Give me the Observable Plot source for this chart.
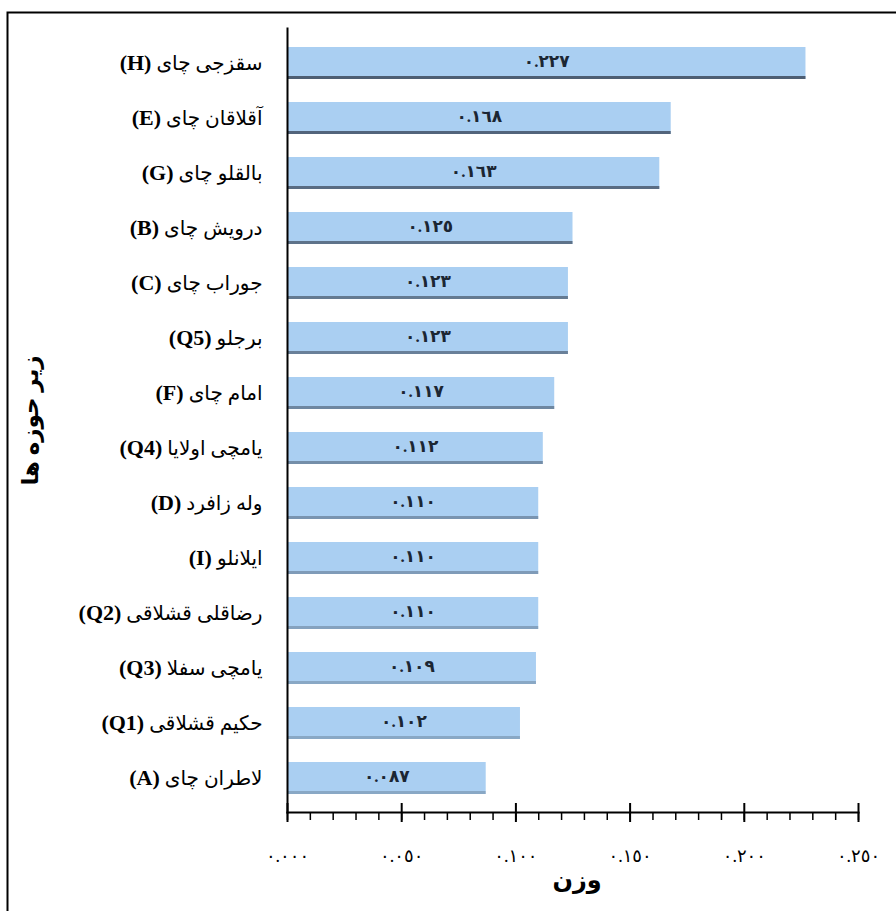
<!DOCTYPE html>
<html>
<head>
<meta charset="utf-8">
<script src="https://cdn.jsdelivr.net/npm/d3@7"></script>
<script src="https://cdn.jsdelivr.net/npm/@observablehq/plot@0.6"></script>
<style>
  html, body { margin: 0; padding: 0; background: #fff; }
</style>
</head>
<body>
<div id="chart"></div>
<script>
const codes = ["H","E","G","B","C","Q5","F","Q4","D","I","Q2","Q3","Q1","A"];
const names = ["سقزجی چای","آقلاقان چای","بالقلو چای","درویش چای","جوراب چای","برجلو","امام چای","یامچی اولایا","وله زافرد","ایلانلو","رضاقلی قشلاقی","یامچی سفلا","حکیم قشلاقی","لاطران چای"];
const weights = [0.227,0.168,0.163,0.125,0.123,0.123,0.117,0.112,0.110,0.110,0.110,0.109,0.102,0.087];
const xTicks = [0,0.05,0.1,0.15,0.2,0.25];
const minorTicks = d3.range(0, 26).map(i => i / 100);
const yTitle = "زیر حوزه ها";
const xTitle = "وزن";

const ar = s => String(s).replace(/\d/g, d => "٠١٢٣٤٥٦٧٨٩"[d]);
const data = codes.map((c, i) => ({code: c, name: names[i], value: weights[i], idx: i}));

const chart = Plot.plot({
  width: 896,
  height: 911,
  marginLeft: 287,
  marginRight: 38,
  marginTop: 28,
  marginBottom: 99,
  x: {domain: [0, 0.25]},
  y: {domain: codes, paddingInner: 0.42, paddingOuter: 0.27},
  style: {fontFamily: "'Liberation Serif', 'DejaVu Sans', serif", background: "white", color: "black"},
  marks: [
    Plot.barX(data, {x: "value", y: "code", fill: "#aacff2"}),
    Plot.barX(data, {x: "value", y: "code", fill: "#4d5e73", insetTop: 29, fillOpacity: d => Math.max(0.35, 1 - d.idx * 0.06)}),
    Plot.text(data, {x: d => d.value / 2, y: "code", text: d => ar(d.value.toFixed(3)), fontWeight: "bold", fontSize: 17, fill: "#1b2633", dy: -2}),
    Plot.axisX(minorTicks, {tickSize: 8, tickFormat: () => "", label: null, strokeWidth: 1.5}),
    Plot.axisX(xTicks, {tickSize: 10, tickPadding: 27, tickFormat: d => ar(d.toFixed(3)), fontSize: 18, label: null, strokeWidth: 2}),
    Plot.ruleX(xTicks, {x: d => d, insetTop: 775, strokeWidth: 2}),
    Plot.frame({anchor: "left", strokeWidth: 2}),
    Plot.frame({anchor: "bottom", strokeWidth: 2}),
    Plot.axisY({tickSize: 0, tickPadding: 25, fontSize: 20, label: null}),
    Plot.text([yTitle], {frameAnchor: "left", textAnchor: "middle", rotate: -90, dx: -257, fontWeight: "bold", fontSize: 23}),
    Plot.text([xTitle], {frameAnchor: "bottom", dy: 75, dx: 4, fontWeight: "bold", fontSize: 24})
  ]
});

const svg = d3.select(chart);
svg.selectAll('g[aria-label="y-axis tick label"] text').each(function () {
  const code = this.textContent;
  const i = codes.indexOf(code);
  const t = d3.select(this);
  t.text(null);
  t.append("tspan").attr("font-weight", "bold").attr("font-size", 22).text("(" + code + ")");
  t.append("tspan").text("\u00a0" + names[i]);
});
svg.selectAll('g[aria-label="x-axis tick label"] text').attr("letter-spacing", "4px");
svg.selectAll('g[aria-label="text"] text').filter(function () { return /٠/.test(this.textContent); }).attr("letter-spacing", "3px");
svg.append("rect")
  .attr("x", 7.5).attr("y", 12.5)
  .attr("width", 910).attr("height", 910)
  .attr("fill", "none").attr("stroke", "black").attr("stroke-width", 2);

document.getElementById("chart").appendChild(chart);
</script>
</body>
</html>
